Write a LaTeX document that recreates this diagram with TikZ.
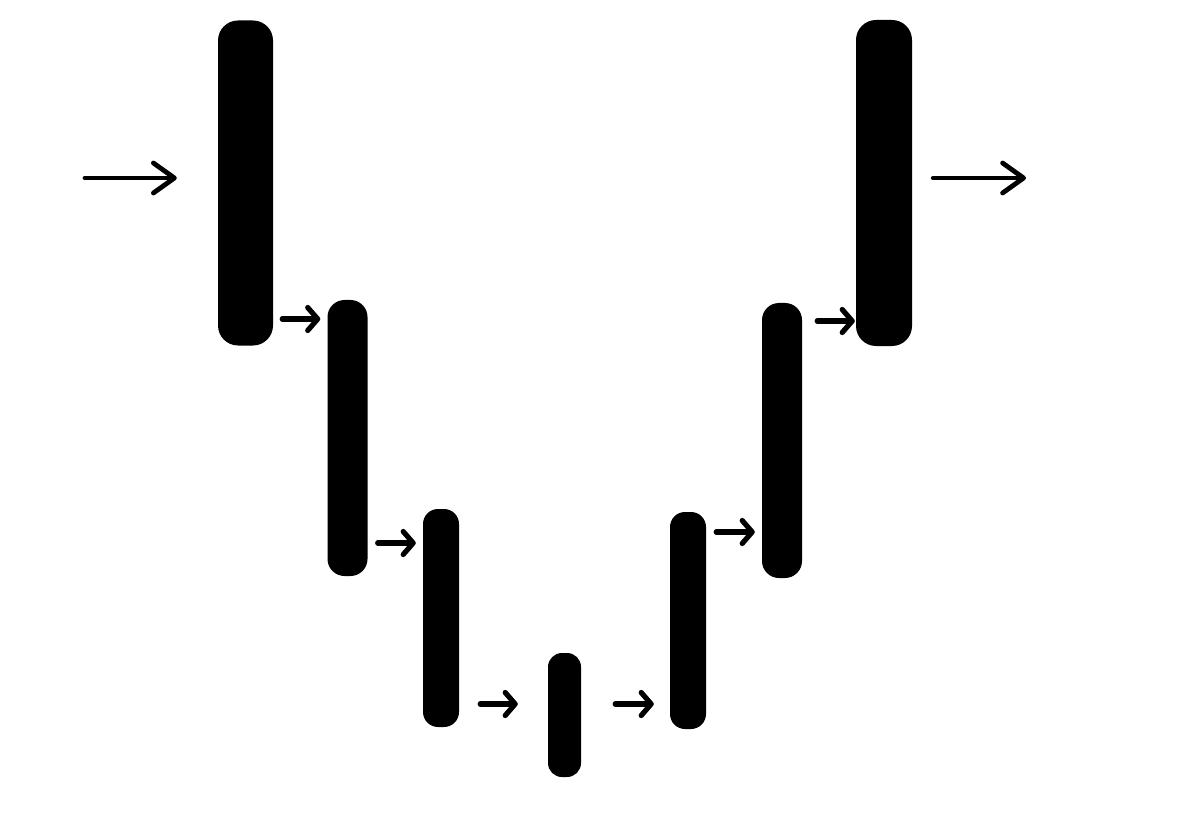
\documentclass[tikz,border=0pt]{standalone}
\usetikzlibrary{arrows.meta}
\begin{document}
\begin{tikzpicture}[x=1pt,y=-1pt,
  bar/.style={fill=black,draw=none,inner sep=0pt,rectangle},
  bigarr/.style={line width=4.8pt,line cap=round,-{Straight Barb[length=21pt,width=30pt,line cap=round,line join=round]}},
  sarr/.style={line width=5.2pt,line cap=round,-{Straight Barb[length=10pt,width=23pt,line cap=round,line join=round]}}]
\useasboundingbox[fill=white] (0,0) rectangle (1194,834);
\node[bar,minimum width=55pt,minimum height=325pt,rounded corners=20pt] (b1) at (245.5,183) {};
\node[bar,minimum width=40pt,minimum height=276pt,rounded corners=17pt] (b2) at (347.5,438) {};
\node[bar,minimum width=36pt,minimum height=218pt,rounded corners=15pt] (b3) at (441,618) {};
\node[bar,minimum width=33pt,minimum height=124pt,rounded corners=14pt] (b4) at (564.5,715) {};
\node[bar,minimum width=36pt,minimum height=217pt,rounded corners=15pt] (b5) at (688,620.5) {};
\node[bar,minimum width=40pt,minimum height=275pt,rounded corners=17pt] (b6) at (782,440.5) {};
\node[bar,minimum width=56pt,minimum height=326pt,rounded corners=20pt] (b7) at (884,183) {};
\coordinate (in) at (85,178);
\coordinate (out) at (1026,178);
\coordinate (y12) at (0,319);
\coordinate (y23) at (0,543);
\coordinate (y34) at (0,704);
\coordinate (y45) at (0,704);
\coordinate (y56) at (0,532);
\coordinate (y67) at (0,321);
\draw[bigarr,shorten >=41pt] (in) -- (in -| b1.west);
\draw[bigarr,shorten <=21pt] (b7.east |- out) -- (out);
\draw[sarr,shorten <=9pt,shorten >=7pt] (b1.east |- y12) -- (b2.west |- y12);
\draw[sarr,shorten <=10pt,shorten >=7pt] (b2.east |- y23) -- (b3.west |- y23);
\draw[sarr,shorten <=21pt,shorten >=30pt] (b3.east |- y34) -- (b4.west |- y34);
\draw[sarr,shorten <=34pt,shorten >=16pt] (b4.east |- y45) -- (b5.west |- y45);
\draw[sarr,shorten <=10pt,shorten >=7pt] (b5.east |- y56) -- (b6.west |- y56);
\draw[sarr,shorten <=15pt,shorten >=1pt] (b6.east |- y67) -- (b7.west |- y67);
\end{tikzpicture}
\end{document}
